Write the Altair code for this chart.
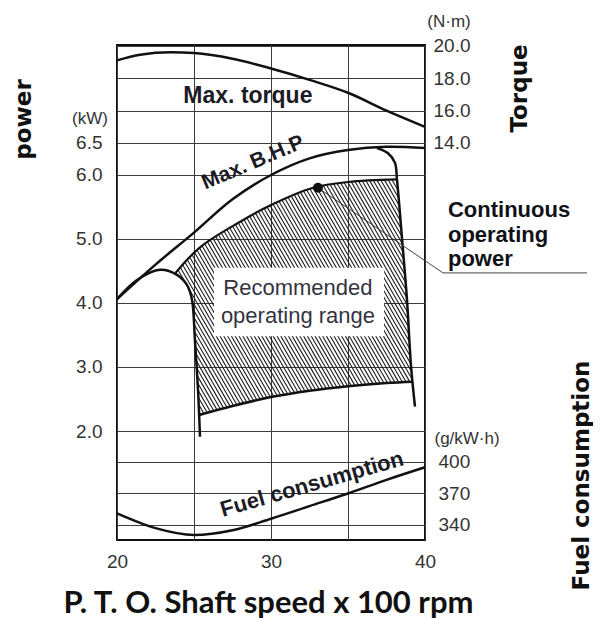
import altair as alt
import pandas as pd
import numpy as np

# ---------------- data ----------------
# x: P.T.O. shaft speed (x 100 rpm)
torque_speed = [20, 21.5, 23.5, 25, 27.5, 30, 32.5, 35, 37.5, 40]
torque_nm = [19.1, 19.45, 19.6, 19.55, 19.2, 18.6, 17.9, 17.1, 16.0, 15.0]

bhp_speed = [20, 22.5, 25, 27.5, 30, 32.5, 35, 37.5, 40]
bhp_kw = [4.06, 4.6, 5.1, 5.62, 6.0, 6.26, 6.39, 6.44, 6.42]

fuel_speed = [20, 22.5, 25, 27.5, 30, 32.5, 35, 37.5, 40]
fuel_gkwh = [351, 337, 330.5, 335, 346, 358, 370, 383, 395]

# recommended operating range limits
left_limit_speed = [20, 21.3, 22.8, 23.9, 24.55, 24.87, 25.06, 25.26, 25.39]
left_limit_kw = [4.06, 4.36, 4.52, 4.44, 4.28, 4.05, 3.42, 2.64, 1.91]

right_limit_speed = [36.88, 37.6, 38.05, 38.18, 38.51, 38.83, 39.09, 39.35]
right_limit_kw = [6.42, 6.34, 6.19, 5.93, 5.0, 4.05, 3.02, 2.38]

cont_speed = [23.8, 25.39, 28.0, 30.0, 32.73, 35.0, 38.18]
cont_kw = [4.47, 4.87, 5.27, 5.53, 5.80, 5.89, 5.93]

low_speed = [25.33, 27.5, 30, 32.5, 35, 37.5, 39.19]
low_kw = [2.25, 2.39, 2.53, 2.63, 2.70, 2.75, 2.77]

cont_point_speed = [33.05]
cont_point_kw = [5.80]

speed_ticks = [20, 25, 30, 35, 40]
power_ticks = [2.0, 3.0, 4.0, 5.0, 6.0, 6.5]
torque_ticks = [14, 16, 18, 20]
fuel_ticks = [340, 370, 400]

# ---------------- scales / layout ----------------
W, H = 308, 495
SPEED_DOM = [20, 40]
POWER_DOM = [0.297, 8.031]
TORQUE_DOM = [-10.51, 20.05]
FUEL_DOM = [325.7, 797.1]

FONT = "Liberation Sans"
INK = "#1c1c26"
LAB = "#333333"
GRID = "#3c3c3c"

# ---------------- hatch lines clipped to the operating range ----------------
poly_s = cont_speed + right_limit_speed[4:7] + [low_speed[-1]] + low_speed[::-1][1:] + \
    left_limit_speed[7:5:-1] + left_limit_speed[5:2:-1]
poly_p = cont_kw + right_limit_kw[4:7] + [low_kw[-1]] + low_kw[::-1][1:] + \
    left_limit_kw[7:5:-1] + left_limit_kw[5:2:-1]
kx = W / (SPEED_DOM[1] - SPEED_DOM[0])
ky = H / (POWER_DOM[1] - POWER_DOM[0])
u = (np.array(poly_s) - SPEED_DOM[0]) * kx
v = (POWER_DOM[1] - np.array(poly_p)) * ky
cot = 1 / np.tan(np.radians(60))
f = u - v * cot
step = 3.8
segs = []
n = len(u)
for c in np.arange(f.min() + step / 2, f.max(), step):
    hits = []
    for i in range(n):
        j = (i + 1) % n
        a, b = f[i] - c, f[j] - c
        if (a < 0) != (b < 0):
            r = a / (a - b)
            hits.append((u[i] + r * (u[j] - u[i]), v[i] + r * (v[j] - v[i])))
    hits.sort(key=lambda h: h[1])
    for k in range(0, len(hits) - 1, 2):
        (u1, v1), (u2, v2) = hits[k], hits[k + 1]
        segs.append({
            "s": SPEED_DOM[0] + u1 / kx, "p": POWER_DOM[1] - v1 / ky,
            "s2": SPEED_DOM[0] + u2 / kx, "p2": POWER_DOM[1] - v2 / ky,
        })
hatch_df = pd.DataFrame(segs)

# ---------------- encodings ----------------
xs = alt.Scale(domain=SPEED_DOM, nice=False, zero=False)
x_axis = alt.Axis(
    values=speed_ticks, labelExpr="datum.value % 10 === 0 ? datum.label : ''",
    grid=True, gridColor=GRID, gridWidth=1, domain=False, ticks=False,
    labelPadding=12, labelFont=FONT, labelFontSize=19, labelColor=LAB,
    labelFlush=False, labelOverlap=False,
    title="P. T. O. Shaft speed x 100 rpm", titleFont="Lato", titleFontWeight="bold",
    titleFontSize=31, titleColor="#111111", titleX=151, titleY=72,
    titleAlign="center", titleBaseline="alphabetic",
)
ys_p = alt.Scale(domain=POWER_DOM, nice=False, zero=False)
p_axis = alt.Axis(
    orient="left", values=power_ticks, format=".1f", grid=True, gridColor=GRID,
    gridWidth=1, domain=False, ticks=False, labelPadding=15, labelFont=FONT,
    labelFontSize=19, labelColor=LAB, labelFlush=False, labelOverlap=False,
    title="power", titleFont="DejaVu Sans", titleFontWeight="bold", titleFontSize=23,
    titleColor="#111111", titleAngle=270, titleX=-87, titleY=74,
    titleAlign="center", titleBaseline="alphabetic",
)
t_axis = alt.Axis(
    orient="right", values=torque_ticks, format=".1f", grid=True, gridColor=GRID,
    gridWidth=1, domain=False, ticks=False, labelPadding=8, labelFont=FONT,
    labelFontSize=19, labelColor=LAB, labelFlush=False, labelOverlap=False,
    title="Torque", titleFont="DejaVu Sans", titleFontWeight="bold", titleFontSize=23,
    titleColor="#111111", titleAngle=270, titleX=101, titleY=43,
    titleAlign="center", titleBaseline="alphabetic",
)
f_axis = alt.Axis(
    orient="right", values=fuel_ticks, format="d", grid=True, gridColor=GRID,
    gridWidth=1, domain=False, ticks=False, labelPadding=13, labelFont=FONT,
    labelFontSize=19, labelColor=LAB, labelFlush=False, labelOverlap=False,
    title="Fuel consumption", titleFont="DejaVu Sans", titleFontWeight="bold",
    titleFontSize=23, titleColor="#111111", titleAngle=270, titleX=163, titleY=430,
    titleAlign="center", titleBaseline="alphabetic",
)


def XP(fld):
    return alt.X(fld, type="quantitative", scale=xs, axis=x_axis)


def YP(fld):
    return alt.Y(fld, type="quantitative", scale=ys_p, axis=p_axis)


def curve(speeds, vals, width=2.5):
    df = pd.DataFrame({"s": speeds, "p": vals, "i": list(range(len(speeds)))})
    return alt.Chart(df).mark_line(
        interpolate="catmull-rom", color="#111111", strokeWidth=width, clip=False
    ).encode(x=XP("s"), y=YP("p"), order=alt.Order("i:Q"))


def label(texts, s, p, size, weight="bold", align="center", angle=0, color=INK):
    df = pd.DataFrame({"t": texts, "s": s, "p": p})
    kw = dict(font=FONT, fontSize=size, fontWeight=weight, align=align,
              baseline="middle", color=color)
    if angle:
        kw["angle"] = angle
    return alt.Chart(df).mark_text(**kw).encode(x=XP("s"), y=YP("p"), text="t:N")


hatch = alt.Chart(hatch_df).mark_rule(color="#1e1e1e", strokeWidth=1.1).encode(
    x=XP("s"), y=YP("p"), x2=alt.X2("s2"), y2=alt.Y2("p2")
)
box = alt.Chart(pd.DataFrame({"s": [26.3], "s2": [37.34], "p": [4.55], "p2": [3.48]})).mark_rect(
    color="white"
).encode(x=XP("s"), x2=alt.X2("s2"), y=YP("p"), y2=alt.Y2("p2"))

leader_df = pd.DataFrame({"s": [33.05, 41.17, 50.52], "p": [5.80, 4.47, 4.47], "i": [0, 1, 2]})
leader = alt.Chart(leader_df).mark_line(color="#444444", strokeWidth=1, clip=False).encode(
    x=XP("s"), y=YP("p"), order=alt.Order("i:Q")
)
dot = alt.Chart(pd.DataFrame({"s": cont_point_speed, "p": cont_point_kw})).mark_circle(
    size=100, color="#111111", opacity=1
).encode(x=XP("s"), y=YP("p"))

power_layer = alt.layer(
    hatch,
    box,
    curve(bhp_speed, bhp_kw),
    curve(left_limit_speed, left_limit_kw),
    curve(right_limit_speed, right_limit_kw),
    curve(cont_speed, cont_kw, 2.2),
    curve(low_speed, low_kw, 2.5),
    leader,
    dot,
    label(["Max. torque"], [28.5], [7.23], 23),
    label(["Max. B.H.P"], [28.83], [6.19], 21, angle=337),
    label(["Fuel consumption"], [32.66], [1.17], 22, angle=344),
    label(["Recommended", "operating range"], [31.75, 31.75], [4.23, 3.80], 22,
          weight="normal", color="#34343f"),
    label(["Continuous", "operating", "power"], [41.49] * 3, [5.453, 5.0625, 4.6875], 22,
          align="left", color="#111118"),
    label(["(kW)", "(N·m)", "(g/kW·h)"], [18.25, 41.56, 42.73], [6.875, 8.39, 1.875], 17,
          weight="normal", color=LAB),
)

torque_chart = alt.Chart(pd.DataFrame({"s": torque_speed, "T": torque_nm})).mark_line(
    interpolate="monotone", color="#111111", strokeWidth=2.5
).encode(
    x=XP("s"),
    y=alt.Y("T", type="quantitative",
            scale=alt.Scale(domain=TORQUE_DOM, nice=False, zero=False), axis=t_axis),
)

fuel_chart = alt.Chart(pd.DataFrame({"s": fuel_speed, "F": fuel_gkwh})).mark_line(
    interpolate="monotone", color="#111111", strokeWidth=2.5
).encode(
    x=XP("s"),
    y=alt.Y("F", type="quantitative",
            scale=alt.Scale(domain=FUEL_DOM, nice=False, zero=False), axis=f_axis),
)

chart = alt.layer(power_layer, torque_chart, fuel_chart).resolve_scale(
    y="independent"
).properties(
    width=W, height=H,
    autosize=alt.AutoSizeParams(type="none"),
    padding={"left": 109, "top": 37, "right": 168, "bottom": 79},
    background="white",
).configure_view(stroke="#111111", strokeWidth=2)

chart.save("out.html", embed_options={"renderer": "svg", "actions": False})
